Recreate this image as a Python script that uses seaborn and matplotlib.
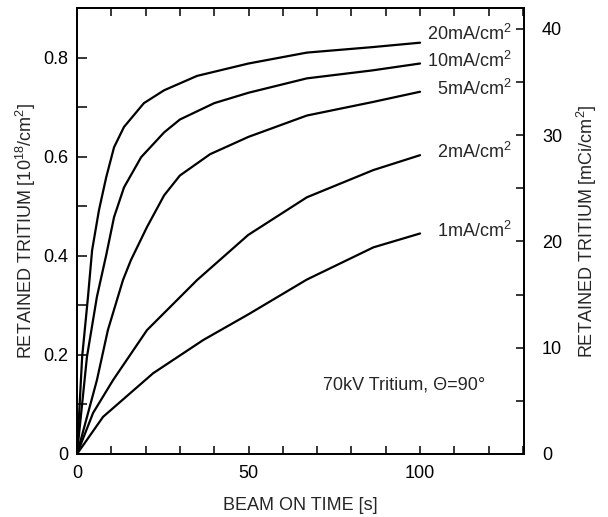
import numpy as np
import pandas as pd
import matplotlib
matplotlib.use("Agg")
import matplotlib.pyplot as plt
from matplotlib.ticker import MultipleLocator
import seaborn as sns

# ---- data ----
t_20 = [0, 1.5, 3.2, 4.4, 6.4, 8.5, 10.8, 13.7, 19.5, 25.4, 35, 50, 67, 86, 100]
y_20 = [0, 0.196, 0.317, 0.411, 0.492, 0.558, 0.619, 0.660, 0.708, 0.734, 0.763, 0.788, 0.810, 0.821, 0.830]

t_10 = [0, 2.9, 5.8, 8.5, 10.8, 13.7, 18.7, 25.4, 30, 40, 50, 67, 86, 100]
y_10 = [0, 0.196, 0.317, 0.401, 0.478, 0.538, 0.599, 0.649, 0.675, 0.708, 0.729, 0.758, 0.774, 0.788]

t_5 = [0, 5.8, 9, 13.4, 15.7, 20.4, 25.4, 30, 38.8, 50, 67, 86, 100]
y_5 = [0, 0.149, 0.250, 0.351, 0.391, 0.458, 0.522, 0.562, 0.605, 0.640, 0.683, 0.710, 0.731]

t_2 = [0, 4.7, 10.5, 20.4, 35, 49.9, 67, 86.4, 100]
y_2 = [0, 0.083, 0.149, 0.250, 0.351, 0.442, 0.518, 0.573, 0.603]

t_1 = [0, 7.6, 22.2, 36.8, 50, 67, 86.4, 100]
y_1 = [0, 0.075, 0.163, 0.230, 0.282, 0.352, 0.417, 0.445]

series_names = ["20mA/cm$^2$", "10mA/cm$^2$", "5mA/cm$^2$", "2mA/cm$^2$", "1mA/cm$^2$"]
label_y = [0.835, 0.780, 0.724, 0.597, 0.4375]

frames = []
for name, t, y in zip(series_names, [t_20, t_10, t_5, t_2, t_1], [y_20, y_10, y_5, y_2, y_1]):
    frames.append(pd.DataFrame({"t": t, "y": y, "series": name}))
df = pd.concat(frames, ignore_index=True)

# ---- style ----
sns.set_style("ticks")
plt.rcParams["font.family"] = ["Liberation Sans", "DejaVu Sans"]
plt.rcParams["mathtext.fontset"] = "custom"
plt.rcParams["mathtext.rm"] = "Liberation Sans"
plt.rcParams["mathtext.it"] = "Liberation Sans"
plt.rcParams["mathtext.bf"] = "Liberation Sans:bold"
FS = 13

fig = plt.figure(figsize=(6.08, 5.17), dpi=100)
ax = fig.add_axes([77 / 608, 1 - 454 / 517, 447 / 608, 446 / 517])

sns.lineplot(data=df, x="t", y="y", hue="series", units="series", estimator=None,
             sort=False, palette=["black"] * 5, linewidth=1.6, legend=False, ax=ax)

ax.set_xlim(0, 130.3)
ax.set_ylim(0, 0.9)

ax.xaxis.set_major_locator(MultipleLocator(50))
ax.xaxis.set_minor_locator(MultipleLocator(10))
ax.yaxis.set_major_locator(MultipleLocator(0.2))
ax.yaxis.set_minor_locator(MultipleLocator(0.1))
ax.xaxis.set_major_formatter(plt.FuncFormatter(lambda v, p: f"{v:g}" if v <= 100 else ""))
ax.yaxis.set_major_formatter(plt.FuncFormatter(lambda v, p: "0" if v == 0 else f"{v:.1f}"))

ax.tick_params(axis="x", which="both", direction="in", top=True, length=5.5, width=1.1,
               labelsize=FS, pad=8, colors="black")
ax.tick_params(axis="y", which="both", direction="in", right=False, length=7.5, width=1.1,
               labelsize=FS, pad=6, colors="black")
for s in ax.spines.values():
    s.set_linewidth(1.3)
    s.set_color("black")
    s.set_visible(True)

ax.set_xlabel("BEAM ON TIME [s]", fontsize=FS)
ax.set_ylabel("RETAINED TRITIUM [10$^{18}$/cm$^2$]", fontsize=FS)
ax.xaxis.set_label_coords(0.5, -0.096)
ax.yaxis.set_label_coords(-0.088, 0.5)

# right axis
ax2 = ax.twinx()
ax2.set_ylim(0, 41.95)
ax2.yaxis.set_major_locator(MultipleLocator(10))
ax2.yaxis.set_minor_locator(MultipleLocator(5))
ax2.tick_params(axis="y", which="both", direction="in", length=5.5, width=1.1,
                labelsize=FS, pad=13, colors="black")
ax2.set_ylabel("RETAINED TRITIUM [mCi/cm$^2$]", fontsize=FS, rotation=90)
ax2.yaxis.set_label_coords(1.113, 0.5)
for s in ax2.spines.values():
    s.set_linewidth(1.3)
    s.set_color("black")

# curve labels
for name, yl in zip(series_names, label_y):
    ax.text(126.8, yl, name, ha="right", va="baseline", fontsize=FS)

ax.text(71.7, 0.131, "70kV Tritium, \u0398=90\u00b0", ha="left", va="baseline", fontsize=FS)

fig.savefig("out.png", dpi=100)
